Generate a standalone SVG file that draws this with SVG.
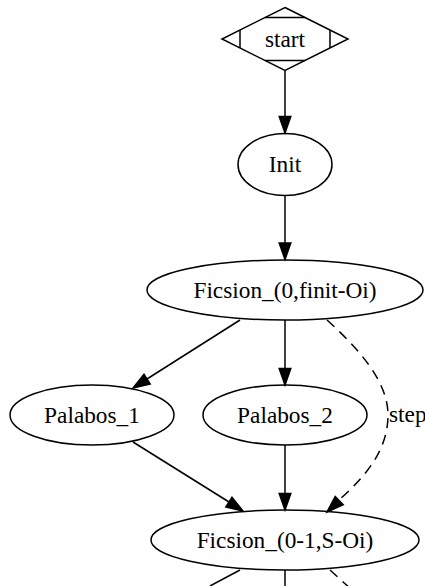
<svg xmlns="http://www.w3.org/2000/svg" width="425" height="586" viewBox="0 0 425 586">
<style>
.n{fill:none;stroke:#000;stroke-width:1.5}
.t{font-family:"Liberation Serif","Times New Roman",serif;font-size:23.3px;fill:#000;text-anchor:middle}
.e{fill:none;stroke:#000;stroke-width:1.5}
.d{stroke-dasharray:10,7}
.a{fill:#000;stroke:#000;stroke-width:1.5}
</style>
<rect width="425" height="586" fill="#fff"/>
<g id="edges">
<path class="e" d="M285,71 L285,117"/>
<polygon class="a" points="285,133 279.2,116.5 290.8,116.5"/>
<path class="e" d="M285,196 L285,243"/>
<polygon class="a" points="285,259.5 279.2,243 290.8,243"/>
<path class="e" d="M240,320 L147,379"/>
<polygon class="a" points="133,388 150.2,384 144,374.2"/>
<path class="e" d="M285,320 L285,369"/>
<polygon class="a" points="285,385 279.2,368.5 290.8,368.5"/>
<path class="e d" d="M327,320 C360,350 388,382 388,415 C388,450 366,476 339,500"/>
<polygon class="a" points="327,512 343.2,504.8 335.2,496.4"/>
<text class="t" x="389" y="422" style="text-anchor:start">step</text>
<path class="e" d="M133,442 L229,502"/>
<polygon class="a" points="243,511 225.8,507 232,497.2"/>
<path class="e" d="M285,445 L285,494"/>
<polygon class="a" points="285,510 279.2,493.5 290.8,493.5"/>
<path class="e" d="M240,570 L210,586"/>
<path class="e" d="M285,570 L285,586"/>
<path class="e d" d="M330,570 L352,590"/>
</g>
<g id="start">
<polygon class="n" points="285,7.5 348,39 285,70.5 222,39"/>
<path class="n" d="M265,17.5 L305,17.5 M265,60.5 L305,60.5 M240,30 L240,48 M330,30 L330,48"/>
<text class="t" x="285" y="46.5">start</text>
</g>
<g id="Init">
<ellipse class="n" cx="285" cy="164.5" rx="47" ry="31"/>
<text class="t" x="285" y="172">Init</text>
</g>
<g id="Ficsion1">
<ellipse class="n" cx="285" cy="290" rx="138" ry="30"/>
<text class="t" x="285" y="297.5">Ficsion_(0,finit-Oi)</text>
</g>
<g id="Palabos_1">
<ellipse class="n" cx="92" cy="415" rx="82" ry="30"/>
<text class="t" x="92" y="422.5">Palabos_1</text>
</g>
<g id="Palabos_2">
<ellipse class="n" cx="285" cy="415" rx="82" ry="30"/>
<text class="t" x="285" y="422.5">Palabos_2</text>
</g>
<g id="Ficsion2">
<ellipse class="n" cx="285" cy="540" rx="134" ry="30"/>
<text class="t" x="285" y="547.5">Ficsion_(0-1,S-Oi)</text>
</g>
</svg>
